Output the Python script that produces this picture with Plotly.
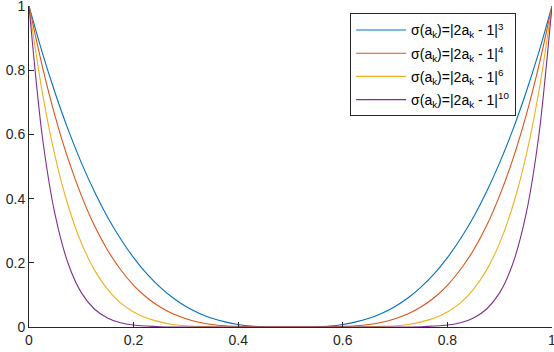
import plotly.graph_objects as go

x_vals = [round(i * 0.025, 3) for i in range(41)]

s3 = [1.000,0.857,0.729,0.614,0.512,0.422,0.343,0.275,0.216,0.166,0.125,0.091,0.064,0.043,0.027,0.016,0.008,0.003,0.001,0.000,0.000,
      0.000,0.001,0.003,0.008,0.016,0.027,0.043,0.064,0.091,0.125,0.166,0.216,0.275,0.343,0.422,0.512,0.614,0.729,0.857,1.000]
s4 = [1.000,0.815,0.656,0.522,0.410,0.316,0.240,0.179,0.130,0.092,0.063,0.041,0.026,0.015,0.008,0.004,0.002,0.001,0.000,0.000,0.000,
      0.000,0.000,0.001,0.002,0.004,0.008,0.015,0.026,0.041,0.063,0.092,0.130,0.179,0.240,0.316,0.410,0.522,0.656,0.815,1.000]
s6 = [1.000,0.735,0.531,0.377,0.262,0.178,0.118,0.075,0.047,0.028,0.016,0.008,0.004,0.002,0.001,0.000,0.000,0.000,0.000,0.000,0.000,
      0.000,0.000,0.000,0.000,0.000,0.001,0.002,0.004,0.008,0.016,0.028,0.047,0.075,0.118,0.178,0.262,0.377,0.531,0.735,1.000]
s10 = [1.000,0.599,0.349,0.197,0.107,0.056,0.028,0.013,0.006,0.003,0.001,0.000,0.000,0.000,0.000,0.000,0.000,0.000,0.000,0.000,0.000,
       0.000,0.000,0.000,0.000,0.000,0.000,0.000,0.000,0.000,0.001,0.003,0.006,0.013,0.028,0.056,0.107,0.197,0.349,0.599,1.000]

names = [
    "σ(a<sub>k</sub>)=|2a<sub>k</sub> - 1|<sup>3</sup>",
    "σ(a<sub>k</sub>)=|2a<sub>k</sub> - 1|<sup>4</sup>",
    "σ(a<sub>k</sub>)=|2a<sub>k</sub> - 1|<sup>6</sup>",
    "σ(a<sub>k</sub>)=|2a<sub>k</sub> - 1|<sup>10</sup>",
]
series = [s3, s4, s6, s10]
colors = ["#0072BD", "#D95319", "#EDB120", "#7E2F8E"]

tick_vals = [0, 0.2, 0.4, 0.6, 0.8, 1]
tick_text = ["0", "0.2", "0.4", "0.6", "0.8", "1"]

fig = go.Figure()
for i, (ys, nm, c) in enumerate(zip(series, names, colors)):
    fig.add_trace(go.Scatter(x=x_vals, y=ys, mode="lines", name=nm, legendgroup=f"g{i}",
                             line=dict(color=c, width=1.1, shape="spline", smoothing=0.8)))

axis_common = dict(range=[0, 1], tickvals=tick_vals, ticktext=tick_text,
                   ticks="inside", ticklen=5, tickcolor="#262626", tickwidth=1,
                   showline=True, linecolor="#262626", linewidth=1,
                   showgrid=False, zeroline=False, automargin=False,
                   ticklabeloverflow="allow",
                   tickfont=dict(family="Liberation Sans, Arial", size=14, color="#262626"))

fig.update_xaxes(**axis_common)
fig.update_yaxes(**axis_common)

fig.update_layout(
    width=554, height=352,
    margin=dict(l=29, r=2, t=6, b=25),
    plot_bgcolor="white", paper_bgcolor="white",
    legend=dict(x=0.614, y=0.977, xanchor="left", yanchor="top",
                bordercolor="#262626", borderwidth=1, bgcolor="white",
                font=dict(family="Liberation Sans, Arial", size=14, color="#000000"),
                itemwidth=50, tracegroupgap=2),
)

fig.write_html("out.html", config={"displayModeBar": False},
               post_script="document.body.style.margin='0';document.body.style.padding='0';")
